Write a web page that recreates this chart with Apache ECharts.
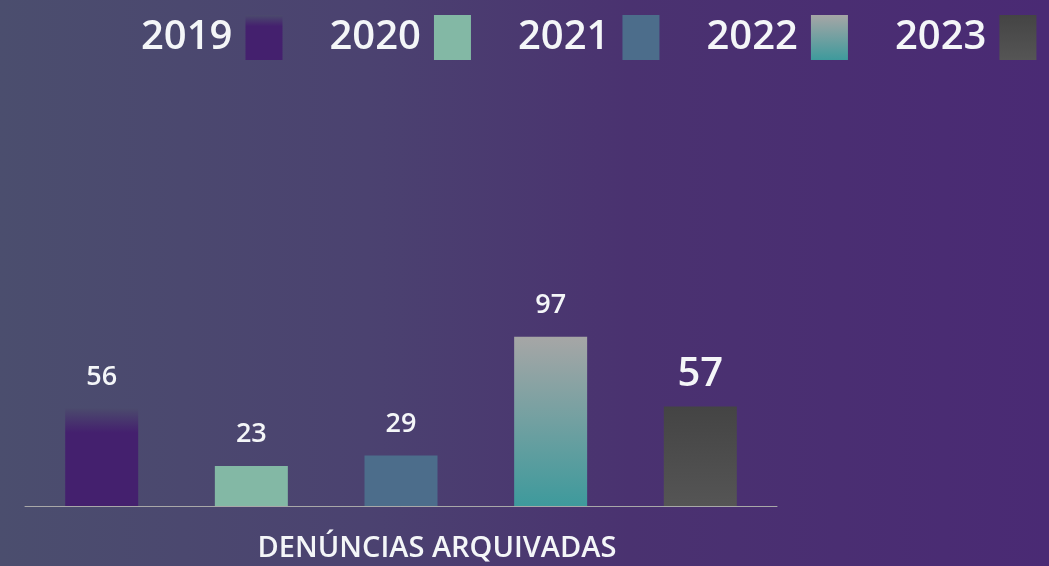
<!DOCTYPE html>
<html>
<head>
<meta charset="utf-8">
<script src="https://cdn.jsdelivr.net/npm/echarts@6/dist/echarts.min.js"></script>
<style>
  html, body { margin: 0; padding: 0; }
  #chart { width: 1049px; height: 566px; }
</style>
</head>
<body>
<div id="chart"></div>
<script>
const categories = ["DENÚNCIAS ARQUIVADAS"]
const years = ["2019", "2020", "2021", "2022", "2023"]
const values = [56, 23, 29, 97, 57]

function vGrad(top, bottom, stop) {
  return new echarts.graphic.LinearGradient(0, 0, 0, 1, [
    { offset: 0, color: top },
    { offset: stop || 1, color: bottom },
    { offset: 1, color: bottom }
  ])
}

// cores de cada ano
const colors = [
  vGrad("#4b4a6d", "#44206e", 0.25),
  "#83b8a5",
  "#4c6d8b",
  vGrad("#a6a6a6", "#3e9a9c"),
  vGrad("#444444", "#555555")
]

const chart = echarts.init(document.getElementById("chart"))

const series = years.map((year, i) => ({
  name: year,
  type: "bar",
  data: [values[i]],
  barWidth: 73,
  barGap: "105%",
  itemStyle: { color: colors[i] },
  label: {
    show: true,
    position: "top",
    distance: i === 4 ? 12 : 18,
    color: "#f4f6f8",
    fontFamily: "Open Sans",
    fontWeight: 600,
    fontSize: i === 4 ? 40 : 27
  }
}))

chart.setOption({
  backgroundColor: new echarts.graphic.LinearGradient(0, 0, 1, 0, [
    { offset: 0, color: "#4b4e6e" },
    { offset: 0.35, color: "#4b4270" },
    { offset: 0.6, color: "#4a3270" },
    { offset: 1, color: "#4a2a74" }
  ]),
  textStyle: { fontFamily: "Open Sans" },
  legend: {
    top: 10,
    left: 136,
    align: "right",
    icon: "rect",
    itemWidth: 37,
    itemHeight: 45,
    itemGap: 47,
    textStyle: {
      color: "#f4f6f8",
      fontSize: 40,
      fontWeight: 600,
      padding: [0, 8, 0, 0]
    },
    data: years
  },
  grid: { left: 25, right: 272, top: 227, bottom: 60 },
  xAxis: {
    type: "category",
    data: categories,
    axisLine: { lineStyle: { color: "#a8a8a8", width: 1 } },
    axisTick: { show: false },
    axisLabel: {
      color: "#f4f6f8",
      fontSize: 29,
      fontWeight: 600,
      margin: 28,
      padding: [0, 0, 0, 72]
    }
  },
  yAxis: {
    type: "value",
    min: 0,
    max: 160,
    show: false,
    splitLine: { show: false }
  },
  series: series
})
</script>
</body>
</html>
